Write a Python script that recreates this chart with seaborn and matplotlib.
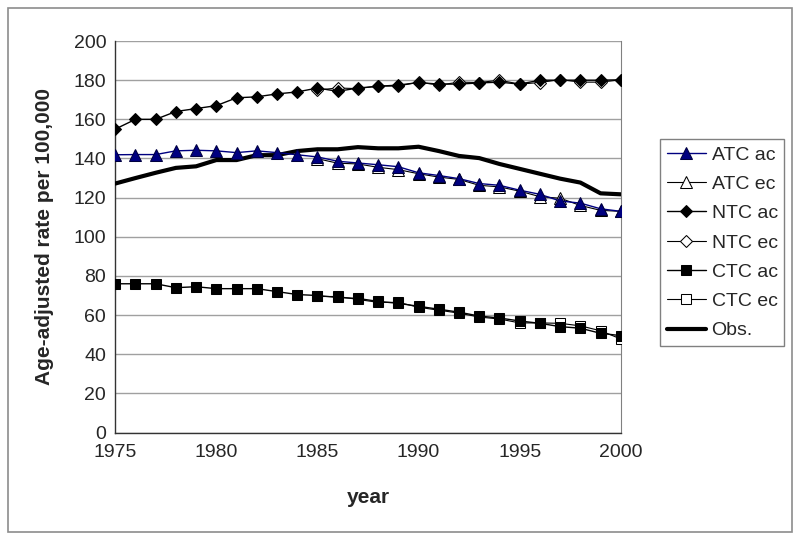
import numpy as np
import pandas as pd
import matplotlib
matplotlib.use('Agg')
import matplotlib.pyplot as plt
from matplotlib.patches import Rectangle
from matplotlib.ticker import MultipleLocator
import seaborn as sns

# Data
years = list(range(1975, 2001))
years_ec = list(range(1985, 2001))

atc_ac = [141.9, 142.0, 142.0, 143.9, 144.2, 143.9, 143.0, 143.9, 143.0, 141.9,
          140.8, 138.6, 137.7, 136.8, 135.8, 132.7, 131.3, 129.7, 127.2, 126.3,
          123.8, 121.7, 118.3, 117.2, 114.3, 113.0]
atc_ec = [139.9, 137.6, 137.2, 135.5, 134.3, 132.2, 130.5, 129.3, 126.3, 125.5,
          123.3, 120.5, 119.7, 116.0, 113.5, 113.0]

ntc_ac = [155.0, 160.0, 160.0, 164.0, 165.5, 167.0, 171.0, 171.5, 173.0, 174.0,
          176.0, 174.3, 176.0, 176.9, 177.5, 178.8, 178.0, 178.0, 178.6, 179.0,
          178.0, 180.0, 180.0, 180.0, 180.0, 180.2]
ntc_ec = [175.0, 176.0, 175.7, 177.0, 177.0, 179.0, 177.5, 179.0, 178.8, 180.0,
          178.0, 178.8, 180.3, 179.0, 179.0, 180.2]

ctc_ac = [76.0, 76.0, 76.0, 74.0, 74.5, 73.5, 73.5, 73.5, 72.0, 70.5,
          70.0, 69.0, 68.5, 67.0, 66.0, 64.5, 63.0, 61.5, 59.5, 58.5,
          57.0, 55.8, 54.1, 53.3, 50.7, 49.5]
ctc_ec = [69.5, 69.5, 68.0, 66.5, 66.5, 64.0, 62.5, 61.0, 59.0, 58.0,
          56.0, 56.0, 55.8, 54.5, 52.0, 47.8]

obs = [127.2, 130.0, 132.7, 135.2, 136.0, 139.2, 139.2, 141.7, 141.7, 143.8,
       144.7, 144.7, 145.8, 145.2, 145.2, 146.0, 143.8, 141.3, 140.2, 137.2,
       134.7, 132.2, 129.7, 127.7, 122.2, 121.7]

sns.set_style("white")
plt.rcParams['font.family'] = ['Liberation Sans', 'DejaVu Sans']

fig = plt.figure(figsize=(8, 5.4), dpi=100)
ax = fig.add_axes([0.144, 0.199, 0.632, 0.725])

# outer frame of the picture
fig.patches.append(Rectangle((0.01, 0.015), 0.98, 0.97, transform=fig.transFigure,
                             fill=False, edgecolor='#8c8c8c', linewidth=1.2))

# ec series sit below the ac markers
sns.lineplot(x=years, y=atc_ac, ax=ax, color='#000080', linewidth=1.0, marker='^',
             markersize=8.5, markerfacecolor='#000080', markeredgecolor='#000040',
             label='ATC ac', zorder=6)
sns.lineplot(x=years_ec, y=atc_ec, ax=ax, color='black', linewidth=0.8, marker='^',
             markersize=8.5, markerfacecolor='white', markeredgecolor='black',
             label='ATC ec', zorder=4)
sns.lineplot(x=years, y=ntc_ac, ax=ax, color='black', linewidth=1.0, marker='D',
             markersize=6.5, markerfacecolor='black', markeredgecolor='black',
             label='NTC ac', zorder=6)
sns.lineplot(x=years_ec, y=ntc_ec, ax=ax, color='black', linewidth=0.8, marker='D',
             markersize=6.5, markerfacecolor='white', markeredgecolor='black',
             label='NTC ec', zorder=4)
sns.lineplot(x=years, y=ctc_ac, ax=ax, color='black', linewidth=1.0, marker='s',
             markersize=6.5, markerfacecolor='black', markeredgecolor='black',
             label='CTC ac', zorder=6)
sns.lineplot(x=years_ec, y=ctc_ec, ax=ax, color='black', linewidth=0.8, marker='s',
             markersize=6.5, markerfacecolor='white', markeredgecolor='black',
             label='CTC ec', zorder=4)
sns.lineplot(x=years, y=obs, ax=ax, color='black', linewidth=3.0,
             label='Obs.', zorder=5)

ax.set_xlim(1975, 2000)
ax.set_ylim(0, 200)
ax.xaxis.set_major_locator(MultipleLocator(5))
ax.xaxis.set_minor_locator(MultipleLocator(1))
ax.yaxis.set_major_locator(MultipleLocator(20))
ax.yaxis.set_minor_locator(MultipleLocator(4))
ax.tick_params(axis='both', which='major', direction='out', length=4.5, width=1,
               color='#333333', labelsize=14, pad=2)
ax.tick_params(axis='both', which='minor', direction='out', length=3, width=0.8,
               color='#333333')
ax.tick_params(axis='x', which='major', pad=4)
ax.grid(axis='y', color='#a0a0a0', linewidth=1.0)
ax.set_axisbelow(True)

for side in ['left', 'bottom']:
    ax.spines[side].set_color('#333333')
    ax.spines[side].set_linewidth(1.0)
ax.spines['right'].set_color('#808080')
ax.spines['top'].set_visible(False)

ax.set_xlabel('year', fontsize=15, fontweight='bold', labelpad=19)
ax.set_ylabel('Age-adjusted rate per 100,000', fontsize=15, fontweight='bold', labelpad=14)

ax.get_legend().remove()
handles, labels = ax.get_legend_handles_labels()
leg = fig.legend(handles, labels, loc='upper left', bbox_to_anchor=(0.825, 0.742),
                 fontsize=14, frameon=True, fancybox=False, framealpha=1,
                 edgecolor='#808080', handlelength=2.0, labelspacing=0.6,
                 handletextpad=0.3, borderpad=0.35, borderaxespad=0)
leg.get_frame().set_linewidth(1.0)

fig.savefig('out.png', dpi=100)
